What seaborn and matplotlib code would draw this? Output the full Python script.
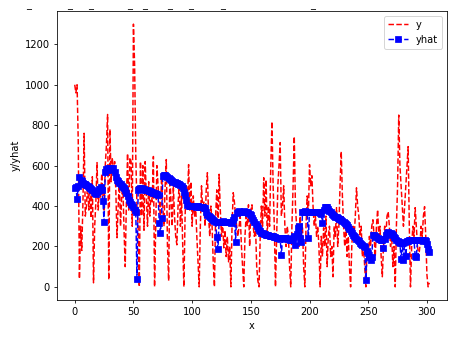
import numpy as np
import pandas as pd
import matplotlib
matplotlib.use("Agg")
import matplotlib.pyplot as plt
import seaborn as sns

y_values = [
    1000, 960, 1000, 720, 40, 300, 180, 420, 760, 350,
    400, 520, 380, 470, 340, 545, 20, 300, 420, 615,
    380, 500, 440, 560, 456, 380, 600, 700, 853, 35,
    780, 520, 640, 560, 620, 480, 243, 400, 520, 300,
    450, 500, 280, 100, 420, 660, 380, 640, 620, 300,
    1300, 1100, 650, 400, 300, 0, 620, 350, 600, 280,
    620, 450, 300, 520, 350, 480, 420, 645, 0, 300,
    600, 500, 420, 350, 560, 400, 300, 500, 630, 200,
    30, 550, 420, 300, 500, 350, 250, 208, 400, 520,
    300, 450, 200, 0, 350, 500, 420, 605, 380, 520,
    300, 450, 350, 400, 250, 120, 0, 300, 500, 380,
    420, 300, 480, 565, 350, 250, 400, 300, 120, 0,
    350, 480, 300, 557, 380, 250, 320, 193, 280, 150,
    250, 124, 200, 0, 300, 466, 420, 350, 300, 250,
    300, 350, 200, 100, 0, 250, 350, 300, 406, 200,
    380, 406, 300, 250, 300, 100, 30, 0, 250, 400,
    300, 540, 350, 530, 250, 400, 300, 600, 818, 500,
    300, 0, 250, 500, 600, 714, 350, 400, 500, 300,
    200, 300, 250, 100, 0, 300, 500, 744, 400, 300,
    300, 200, 350, 250, 300, 100, 0, 300, 450, 350,
    605, 500, 550, 400, 300, 350, 250, 300, 200, 0,
    250, 150, 292, 200, 350, 100, 250, 300, 150, 200,
    50, 300, 250, 392, 200, 300, 500, 670, 450, 300,
    200, 300, 150, 250, 100, 0, 200, 300, 250, 350,
    490, 400, 350, 250, 300, 150, 200, 100, 0, 200,
    150, 250, 200, 300, 332, 250, 150, 300, 382, 250,
    300, 150, 50, 200, 300, 250, 350, 372, 300, 200,
    250, 100, 200, 0, 300, 500, 850, 600, 500, 400,
    300, 400, 500, 600, 694, 300, 0, 200, 300, 250,
    392, 300, 200, 150, 200, 300, 250, 350, 397, 250,
    60, 0, 20,
]

yhat_values = [
    490, 495, 437, 500, 545, 530, 522, 515, 510, 508,
    505, 500, 495, 490, 485, 480, 470, 462, 458, 470,
    475, 485, 495, 480, 426, 322, 570, 585, 590, 580,
    590, 588, 582, 590, 570, 545, 530, 525, 515, 510,
    500, 495, 490, 480, 465, 450, 430, 420, 410, 406,
    395, 380, 372, 40, 480, 485, 490, 488, 485, 482,
    480, 480, 478, 475, 472, 470, 468, 465, 462, 460,
    458, 456, 317, 268, 342, 550, 555, 552, 548, 545,
    540, 535, 530, 525, 520, 518, 515, 512, 510, 508,
    505, 500, 490, 470, 456, 430, 405, 400, 398, 400,
    402, 400, 398, 396, 398, 400, 396, 395, 394, 393,
    392, 392, 370, 357, 350, 345, 340, 335, 332, 328,
    322, 248, 188, 322, 320, 322, 324, 322, 320, 322,
    320, 322, 320, 318, 322, 330, 345, 223, 365, 372,
    374, 372, 370, 372, 374, 372, 370, 368, 365, 362,
    355, 342, 330, 320, 310, 300, 292, 282, 275, 268,
    265, 262, 260, 258, 256, 255, 252, 250, 252, 250,
    248, 246, 244, 242, 240, 238, 159, 240, 242, 244,
    240, 238, 236, 234, 232, 230, 240, 250, 205, 260,
    292, 300, 240, 220, 368, 372, 374, 372, 370, 243,
    372, 370, 372, 370, 368, 370, 372, 370, 368, 365,
    362, 317, 380, 395, 397, 395, 385, 375, 370, 362,
    356, 350, 347, 345, 340, 338, 335, 330, 326, 322,
    318, 312, 304, 296, 286, 276, 266, 258, 250, 245,
    238, 230, 225, 218, 212, 205, 200, 195, 35, 178,
    168, 150, 134, 150, 258, 255, 250, 246, 242, 238,
    235, 232, 230, 193, 235, 255, 265, 270, 268, 265,
    262, 255, 248, 240, 232, 225, 220, 216, 138, 218,
    134, 222, 153, 225, 228, 230, 232, 230, 232, 230,
    153, 149, 230, 232, 230, 232, 230, 228, 230, 225,
    210, 185, 173,
]

top_marks_px = [29, 70, 91, 130, 145, 170, 191, 223, 313]

n = len(y_values)
df = pd.DataFrame({"x": np.arange(n), "y": y_values, "yhat": yhat_values[:n]})

W, H = 454, 337
dpi = 71
fig = plt.figure(figsize=(W / dpi, H / dpi), dpi=dpi)
ax = fig.add_axes([57 / W, 1 - 300 / H, (447 - 57) / W, (300 - 11) / H])

sns.lineplot(data=df, x="x", y="y", ax=ax, color="red", linestyle="--",
             linewidth=1.5, label="y")
sns.lineplot(data=df, x="x", y="yhat", ax=ax, color="blue", linestyle="--",
             linewidth=1.5, marker="s", markersize=6.5, markeredgecolor="blue",
             markerfacecolor="blue", label="yhat")

ax.set_xlabel("x")
ax.set_ylabel("y/yhat")
ax.set_xticks([0, 50, 100, 150, 200, 250, 300])
ax.set_yticks([0, 200, 400, 600, 800, 1000, 1200])
ax.legend(loc="upper right")

for px in top_marks_px:
    fig.text(px / W, 1 - 7.5 / H, "_", ha="center", va="baseline",
             fontsize=10, color="black")

fig.savefig("out.png", dpi=dpi)
